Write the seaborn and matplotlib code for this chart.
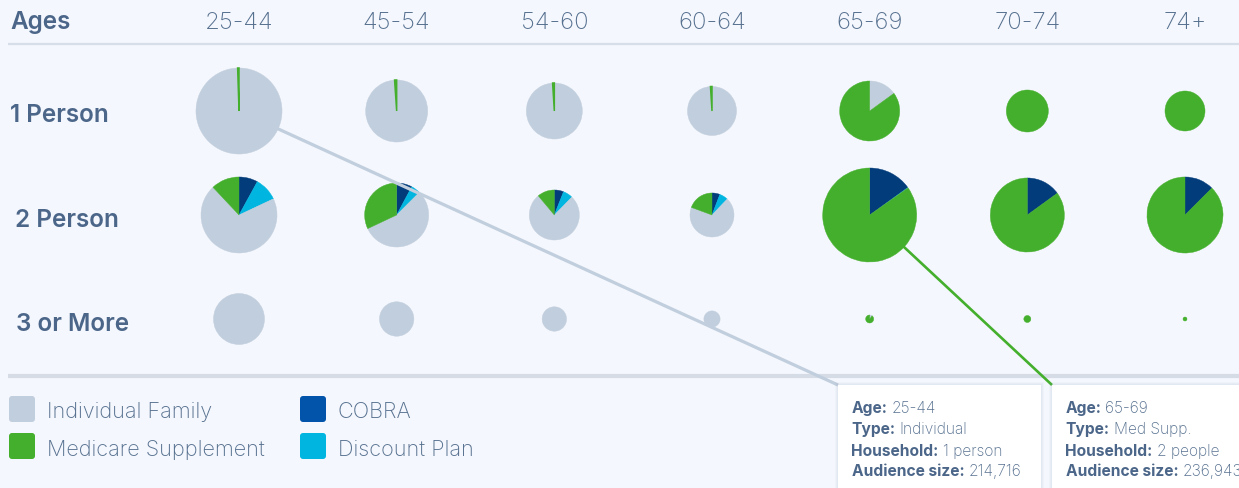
import numpy as np
import pandas as pd
import matplotlib
matplotlib.use("Agg")
import matplotlib.pyplot as plt
from matplotlib.patches import FancyBboxPatch, Rectangle
import seaborn as sns

# ---------------- data ----------------
AGES = ["25-44", "45-54", "54-60", "60-64", "65-69", "70-74", "74+"]
HOUSEHOLDS = ["1 Person", "2 Person", "3 or More"]
SEGMENTS = ["Individual Family", "Medicare Supplement", "COBRA", "Discount Plan"]

# audience size per household row (1 Person, 2 Person, 3 or More) and age column
individual = [
    [214716, 111000, 90600, 69350, 15750, 0, 0],
    [117950, 66320, 55880, 38700, 0, 0, 0],
    [75890, 34530, 17370, 7660, 190, 0, 0],
]
medicare = [
    [1080, 1200, 900, 700, 89250, 51470, 46680],
    [20220, 38240, 8090, 10950, 218360, 135830, 147440],
    [0, 0, 0, 0, 1680, 1430, 467],
]
cobra = [
    [0, 0, 0, 0, 0, 0, 0],
    [13480, 9320, 4380, 3280, 38670, 23970, 21060],
    [0, 0, 0, 0, 0, 0, 0],
]
discount = [
    [0, 0, 0, 0, 0, 0, 0],
    [16850, 5620, 4600, 3560, 500, 0, 0],
    [0, 0, 0, 0, 0, 0, 0],
]

tooltips = [
    {"age": "25-44", "type": "Individual", "household": "1 person", "size": "214,716"},
    {"age": "65-69", "type": "Med Supp.", "household": "2 people", "size": "236,943"},
]

# ---------------- style ----------------
sns.set_theme(style="white")
plt.rcParams["font.family"] = ["Inter", "DejaVu Sans"]

BG = "#f4f7fd"
TXT = "#56708f"
TXT_DARK = "#4b6689"
seg_colors = dict(zip(SEGMENTS, sns.color_palette(["#c1cedd", "#44af2c", "#023c7b", "#00b6e0"])))
legend_colors = dict(zip(SEGMENTS, sns.color_palette(["#c1cedd", "#44af2c", "#0254ab", "#00b6e0"])))

W, H = 1239, 489
fig = plt.figure(figsize=(W / 100, H / 100), dpi=100, facecolor=BG)
ax = fig.add_axes([0, 0, 1, 1])
ax.set_facecolor(BG)

def Y(y):
    return H - y

col_x = np.linspace(239, 1185, len(AGES))
row_y = [112, 216, 320]

df = pd.DataFrame(
    [
        dict(household=h, age=a, COBRA=cobra[i][j], Discount=discount[i][j],
             Individual=individual[i][j], Medicare=medicare[i][j])
        for i, h in enumerate(HOUSEHOLDS) for j, a in enumerate(AGES)
    ]
)
df["total"] = df[["COBRA", "Discount", "Individual", "Medicare"]].sum(axis=1)
R_MAX = 47.0
max_total = df["total"].max()

order = [("COBRA", "COBRA"), ("Discount", "Discount Plan"),
         ("Individual", "Individual Family"), ("Medicare", "Medicare Supplement")]

centers = {}
for _, row in df.iterrows():
    i = HOUSEHOLDS.index(row["household"])
    j = AGES.index(row["age"])
    r = R_MAX * np.sqrt(row["total"] / max_total)
    vals, cols, keys = [], [], []
    for key, seg in order:
        if row[key] > 0:
            vals.append(row[key])
            cols.append(seg_colors[seg])
            keys.append(key)
    cx, cy = col_x[j], Y(row_y[i])
    centers[(i, j)] = (cx, cy, r)
    wedges, _ = ax.pie(vals, colors=cols, radius=r, center=(cx, cy), startangle=90,
                       counterclock=False, frame=True, wedgeprops=dict(linewidth=0.3))
    for w, v, k in zip(wedges, vals, keys):
        w.set_edgecolor(w.get_facecolor())
        if k == "Medicare" and v / row["total"] < 0.02:
            w.set_linewidth(1.1)
            w.set_zorder(2.5)
        elif v / row["total"] < 0.005:
            w.set_linewidth(0)

ax.set_xlim(0, W)
ax.set_ylim(0, H)
ax.set_aspect("auto")
ax.set_autoscale_on(False)

# ---------------- header ----------------
ax.text(10, Y(29), "Ages", fontsize=17.5, fontweight="semibold", color=TXT_DARK, va="baseline", ha="left")
for x, a in zip(col_x, AGES):
    ax.text(x, Y(29.5), a, fontsize=17.2, fontweight="light", color=TXT, va="baseline", ha="center")
ax.plot([8, W], [Y(45), Y(45)], color="#d6dee9", lw=1.6, solid_capstyle="butt", zorder=1)

row_label_x = [10, 15, 16]
row_label_base = [122.3, 226.7, 330.7]
for lab, x, b in zip(HOUSEHOLDS, row_label_x, row_label_base):
    ax.text(x, Y(b), lab, fontsize=17.5, fontweight="semibold", color=TXT_DARK, va="baseline", ha="left")

# bottom separator
ax.plot([8, W], [Y(377), Y(377)], color="#d5dce6", lw=3.0, solid_capstyle="butt", zorder=1)

# ---------------- legend ----------------
leg_pos = {
    "Individual Family": (9, 397, 47, 418.3),
    "Medicare Supplement": (9, 434, 47, 455.7),
    "COBRA": (300, 397, 337.5, 418.3),
    "Discount Plan": (300, 434, 337.5, 455.7),
}
for seg, (sx, sy, tx, tb) in leg_pos.items():
    ax.add_patch(FancyBboxPatch((sx + 2, Y(sy + 26) + 2), 22, 22,
                                boxstyle="round,pad=2,rounding_size=3",
                                fc=legend_colors[seg], ec="none", zorder=3))
    ax.text(tx, Y(tb), seg, fontsize=15.6, fontweight="light", color=TXT, va="baseline", ha="left")

# ---------------- leader lines ----------------
box_corners = [(838, 386), (1052, 386)]
targets = [(0, 0, "#c1cedd", 2.3), (1, 4, "#44af2c", 1.9)]
for (i, j, c, lw), (bx, by) in zip(targets, box_corners):
    cx, cy, r = centers[(i, j)]
    ex, ey = bx, Y(by)
    d = np.array([ex - cx, ey - cy])
    u = d / np.linalg.norm(d)
    sx, sy = cx + u[0] * (r - 1), cy + u[1] * (r - 1)
    ax.plot([sx, ex], [sy, ey], color=c, lw=lw, zorder=4, solid_capstyle="butt")

# ---------------- tooltips ----------------
box_w = [203, 220]
fig.canvas.draw()
renderer = fig.canvas.get_renderer()
for (bx, by), w, tip in zip(box_corners, box_w, tooltips):
    # soft shadow
    for k, a in enumerate([0.05, 0.05, 0.06]):
        ax.add_patch(Rectangle((bx - 3 + k, Y(by + 140)), w + 6 - 2 * k, 143 - k,
                               fc="#8a9bb5", ec="none", alpha=a, zorder=5))
    ax.add_patch(Rectangle((bx, Y(by + 140)), w, 140, fc="white", ec="none", zorder=6))
    lines = [("Age:", tip["age"]), ("Type:", tip["type"]),
             ("Household:", tip["household"]), ("Audience size:", tip["size"])]
    bases = [413.3, 434.3, 455.8, 476.0]
    for (lab, val), b in zip(lines, bases):
        t = ax.text(bx + 13.5, Y(b), lab, fontsize=11.2, fontweight="bold", color=TXT_DARK,
                    va="baseline", ha="left", zorder=7)
        ext = t.get_window_extent(renderer=renderer)
        ax.text(ext.x1 + 4, Y(b), val, fontsize=11.2, fontweight="light", color=TXT,
                va="baseline", ha="left", zorder=7)

ax.axis("off")
fig.savefig("out.png", dpi=100, facecolor=BG)
